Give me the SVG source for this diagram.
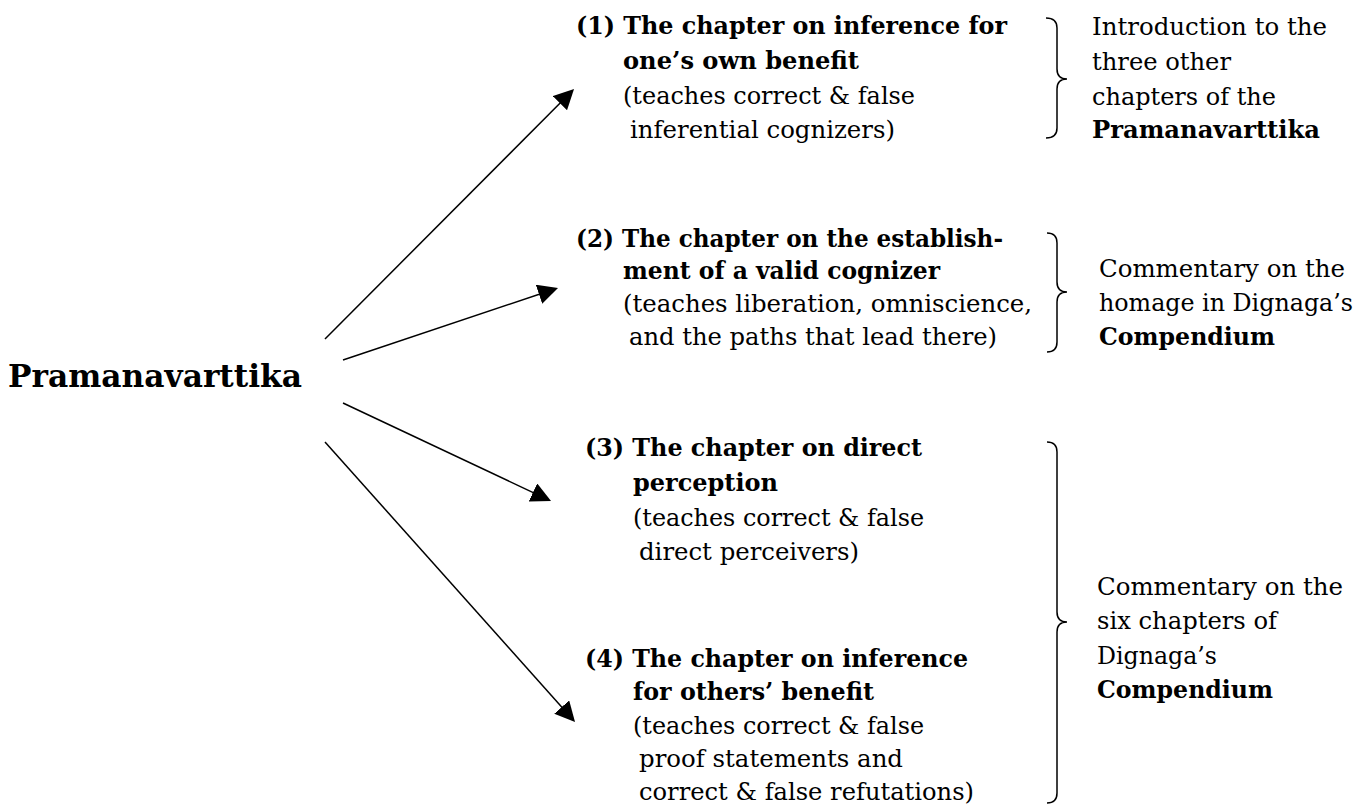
<svg xmlns="http://www.w3.org/2000/svg" width="1371" height="808" viewBox="0 0 1371 808">
<style>
text{font-family:"DejaVu Serif","Liberation Serif",serif;fill:#000;font-size:24px}
.b{font-weight:bold}
.t{font-weight:bold;font-size:31px}
.ln{stroke:#000;stroke-width:1.5;fill:none}
.br{stroke:#000;stroke-width:1.5;fill:none}
</style>
<defs>
<marker id="ah" markerUnits="userSpaceOnUse" markerWidth="20" markerHeight="20" refX="12" refY="10" orient="auto">
<path d="M0,0 L20,10 L0,20 z" fill="#000"/>
</marker>
</defs>
<rect width="1371" height="808" fill="#fff"/>
<g id="connectors">
<line class="ln" x1="325" y1="339" x2="568.4" y2="94.7" marker-end="url(#ah)"/>
<line class="ln" x1="343" y1="360" x2="550.4" y2="290.5" marker-end="url(#ah)"/>
<line class="ln" x1="343" y1="403" x2="543.8" y2="497.6" marker-end="url(#ah)"/>
<line class="ln" x1="325" y1="442" x2="569.7" y2="716" marker-end="url(#ah)"/>
</g>
<g id="root">
<text class="t" x="8" y="387" textLength="294" lengthAdjust="spacingAndGlyphs">Pramanavarttika</text>
</g>
<g id="ch1">
<text class="b" x="576" y="34" textLength="431" lengthAdjust="spacingAndGlyphs">(1) The chapter on inference for</text>
<text class="b" x="623" y="69" textLength="236" lengthAdjust="spacingAndGlyphs">one’s own benefit</text>
<text x="623" y="104" textLength="292" lengthAdjust="spacingAndGlyphs">(teaches correct &amp; false</text>
<text x="630" y="138" textLength="265" lengthAdjust="spacingAndGlyphs">inferential cognizers)</text>
</g>
<g id="ch2">
<text class="b" x="576" y="247" textLength="427" lengthAdjust="spacingAndGlyphs">(2) The chapter on the establish-</text>
<text class="b" x="623" y="279" textLength="317" lengthAdjust="spacingAndGlyphs">ment of a valid cognizer</text>
<text x="623" y="312" textLength="409" lengthAdjust="spacingAndGlyphs">(teaches liberation, omniscience,</text>
<text x="629" y="345" textLength="368" lengthAdjust="spacingAndGlyphs">and the paths that lead there)</text>
</g>
<g id="ch3">
<text class="b" x="585" y="456" textLength="337" lengthAdjust="spacingAndGlyphs">(3) The chapter on direct</text>
<text class="b" x="633" y="491" textLength="145" lengthAdjust="spacingAndGlyphs">perception</text>
<text x="633" y="526" textLength="291" lengthAdjust="spacingAndGlyphs">(teaches correct &amp; false</text>
<text x="639" y="560" textLength="220" lengthAdjust="spacingAndGlyphs">direct perceivers)</text>
</g>
<g id="ch4">
<text class="b" x="585" y="667" textLength="383" lengthAdjust="spacingAndGlyphs">(4) The chapter on inference</text>
<text class="b" x="633" y="700" textLength="241" lengthAdjust="spacingAndGlyphs">for others’ benefit</text>
<text x="633" y="734" textLength="291" lengthAdjust="spacingAndGlyphs">(teaches correct &amp; false</text>
<text x="639" y="767" textLength="264" lengthAdjust="spacingAndGlyphs">proof statements and</text>
<text x="639" y="800" textLength="335" lengthAdjust="spacingAndGlyphs">correct &amp; false refutations)</text>
</g>
<g id="note1">
<path class="br" d="M1046,18 Q1057,18 1057,28 L1057,69 Q1057,79 1067,79 Q1057,79 1057,89 L1057,128 Q1057,138 1046,138"/>
<text x="1092" y="35" textLength="235" lengthAdjust="spacingAndGlyphs">Introduction to the</text>
<text x="1092" y="70" textLength="139" lengthAdjust="spacingAndGlyphs">three other</text>
<text x="1092" y="105" textLength="184" lengthAdjust="spacingAndGlyphs">chapters of the</text>
<text class="b" x="1092" y="138" textLength="228" lengthAdjust="spacingAndGlyphs">Pramanavarttika</text>
</g>
<g id="note2">
<path class="br" d="M1047,233 Q1057,233 1057,243 L1057,282 Q1057,292 1067,292 Q1057,292 1057,302 L1057,342 Q1057,352 1047,352"/>
<text x="1099" y="277" textLength="246" lengthAdjust="spacingAndGlyphs">Commentary on the</text>
<text x="1099" y="311" textLength="254" lengthAdjust="spacingAndGlyphs">homage in Dignaga’s</text>
<text class="b" x="1099" y="345" textLength="176" lengthAdjust="spacingAndGlyphs">Compendium</text>
</g>
<g id="note3">
<path class="br" d="M1047,442 Q1057,442 1057,452 L1057,612 Q1057,622 1067,622 Q1057,622 1057,632 L1057,793 Q1057,803 1047,803"/>
<text x="1097" y="595" textLength="246" lengthAdjust="spacingAndGlyphs">Commentary on the</text>
<text x="1097" y="629" textLength="180" lengthAdjust="spacingAndGlyphs">six chapters of</text>
<text x="1097" y="664" textLength="120" lengthAdjust="spacingAndGlyphs">Dignaga’s</text>
<text class="b" x="1097" y="698" textLength="176" lengthAdjust="spacingAndGlyphs">Compendium</text>
</g>
</svg>
